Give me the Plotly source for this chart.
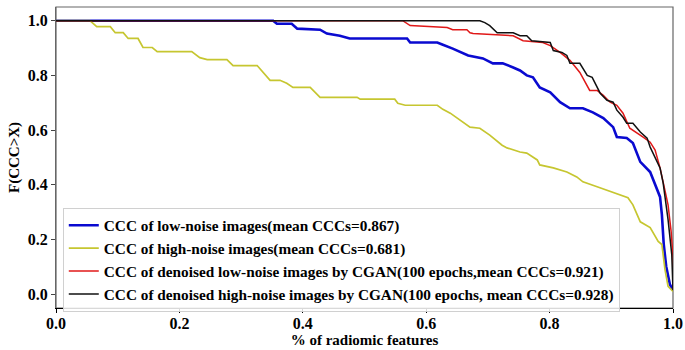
import plotly.graph_objects as go

# ---- data ----
low_x = [0, 0.352, 0.358, 0.382, 0.391, 0.428, 0.439, 0.455, 0.460, 0.476, 0.569, 0.574, 0.618, 0.626, 0.643,
         0.668, 0.692, 0.708, 0.724, 0.741, 0.752, 0.763, 0.773, 0.784, 0.801, 0.817, 0.833, 0.854, 0.870, 0.887,
         0.903, 0.909, 0.925, 0.935, 0.942, 0.947, 0.963, 0.974, 0.979, 0.982, 0.985, 0.989, 0.995, 1.0]
low_y = [1.0, 1.0, 0.989, 0.989, 0.971, 0.967, 0.953, 0.949, 0.945, 0.935, 0.935, 0.92, 0.92, 0.913, 0.898,
         0.873, 0.862, 0.844, 0.844, 0.829, 0.818, 0.8, 0.793, 0.756, 0.738, 0.702, 0.68, 0.68, 0.665, 0.644,
         0.611, 0.575, 0.571, 0.553, 0.516, 0.484, 0.447, 0.389, 0.356, 0.291, 0.182, 0.102, 0.036, 0.015]

high_x = [0, 0.055, 0.066, 0.088, 0.096, 0.109, 0.117, 0.133, 0.141, 0.156, 0.164, 0.220, 0.233, 0.245, 0.277,
          0.287, 0.326, 0.347, 0.363, 0.374, 0.384, 0.412, 0.428, 0.488, 0.493, 0.549, 0.554, 0.566, 0.618, 0.627,
          0.639, 0.650, 0.671, 0.687, 0.703, 0.723, 0.731, 0.752, 0.763, 0.780, 0.784, 0.806, 0.828, 0.844, 0.854,
          0.877, 0.903, 0.927, 0.935, 0.947, 0.963, 0.976, 0.982, 0.987, 0.992, 1.0]
high_y = [1.0, 1.0, 0.978, 0.978, 0.956, 0.956, 0.935, 0.935, 0.902, 0.902, 0.887, 0.887, 0.865, 0.858, 0.858,
          0.836, 0.836, 0.782, 0.782, 0.771, 0.756, 0.756, 0.72, 0.72, 0.713, 0.713, 0.698, 0.691, 0.691, 0.676,
          0.662, 0.644, 0.611, 0.607, 0.582, 0.545, 0.535, 0.52, 0.516, 0.491, 0.473, 0.462, 0.447, 0.429, 0.411,
          0.393, 0.371, 0.353, 0.327, 0.265, 0.244, 0.193, 0.182, 0.091, 0.029, 0.011]

den_low_x = [0, 0.562, 0.574, 0.634, 0.643, 0.666, 0.671, 0.676, 0.741, 0.757, 0.789, 0.801, 0.817, 0.833, 0.849,
             0.865, 0.877, 0.887, 0.898, 0.909, 0.919, 0.930, 0.951, 0.963, 0.971, 0.979, 0.985, 0.992, 0.997, 1.0, 1.0]
den_low_y = [1.0, 1.0, 0.982, 0.975, 0.967, 0.967, 0.956, 0.953, 0.945, 0.927, 0.92, 0.909, 0.884, 0.855, 0.811,
             0.745, 0.745, 0.727, 0.702, 0.691, 0.662, 0.607, 0.575, 0.556, 0.527, 0.462, 0.4, 0.327, 0.229, 0.138, 0.018]

den_high_x = [0, 0.687, 0.695, 0.703, 0.715, 0.741, 0.752, 0.763, 0.771, 0.801, 0.806, 0.820, 0.828, 0.833, 0.849,
              0.861, 0.869, 0.877, 0.882, 0.893, 0.903, 0.909, 0.919, 0.925, 0.935, 0.947, 0.958, 0.963, 0.971, 0.979,
              0.984, 0.992, 0.998, 1.0, 1.0]
den_high_y = [1.0, 1.0, 0.993, 0.982, 0.956, 0.956, 0.945, 0.945, 0.927, 0.92, 0.891, 0.884, 0.873, 0.844, 0.844,
              0.8, 0.793, 0.756, 0.735, 0.709, 0.702, 0.673, 0.647, 0.625, 0.625, 0.593, 0.571, 0.538, 0.498, 0.462,
              0.407, 0.273, 0.145, 0.044, 0.015]

names = [
    "CCC of low-noise images(mean CCCs=0.867)",
    "CCC of high-noise images(mean CCCs=0.681)",
    "CCC of denoised low-noise images by CGAN(100 epochs,mean CCCs=0.921)",
    "CCC of denoised high-noise images by CGAN(100 epochs, mean CCCs=0.928)",
]
ticks = [0.0, 0.2, 0.4, 0.6, 0.8, 1.0]

FONT = "Liberation Serif"
FS = 15

fig = go.Figure()
series = [(low_x, low_y, "#0a0ad0", 2.6), (high_x, high_y, "#c6c630", 1.7),
          (den_low_x, den_low_y, "#e01818", 1.5), (den_high_x, den_high_y, "#111111", 1.5)]
for (xs, ys, col, w), nm in zip(series, names):
    fig.add_trace(go.Scatter(x=xs, y=ys, mode="lines", name="<b>" + nm + "</b>",
                             line=dict(color=col, width=w)))

fig.update_layout(
    width=685, height=350,
    margin=dict(l=56, r=12, t=7, b=42),
    plot_bgcolor="white", paper_bgcolor="white",
    font=dict(family=FONT, size=FS, color="black"),
    showlegend=True,
    legend=dict(x=0.011, y=0.333, xanchor="left", yanchor="top",
                bgcolor="rgba(255,255,255,0.85)", bordercolor="#d0d0d0", borderwidth=1,
                font=dict(family=FONT, size=15.3, color="black"),
                tracegroupgap=0, itemwidth=30),
    shapes=[dict(type="rect", xref="paper", yref="paper", x0=0, y0=0, x1=1, y1=1,
                 line=dict(color="#666666", width=1.2), layer="below")],
)
fig.update_xaxes(range=[0, 1], tickvals=ticks, ticktext=["<b>%.1f</b>" % t for t in ticks],
                 ticks="outside", ticklen=4, automargin=False, ticklabelstandoff=-3,
                 tickcolor="black", showgrid=False, zeroline=False, showline=True,
                 linecolor="black", linewidth=1.2,
                 tickfont=dict(family=FONT, size=FS + 1, color="black"),
                 title=dict(text="<b>% of radiomic features</b>", standoff=0,
                            font=dict(family=FONT, size=FS, color="black")))
fig.update_yaxes(range=[-0.05, 1.05], tickvals=ticks, ticktext=["<b>%.1f</b>" % t for t in ticks],
                 ticks="outside", ticklen=4, automargin=False,
                 tickcolor="#444", showgrid=False, zeroline=False, showline=True,
                 linecolor="#666666", linewidth=1.2,
                 tickfont=dict(family=FONT, size=FS + 1, color="black"),
                 title=dict(text="<b>F(CCC>X)</b>", standoff=4,
                            font=dict(family=FONT, size=FS, color="black")))

fig.write_html("out.html")
